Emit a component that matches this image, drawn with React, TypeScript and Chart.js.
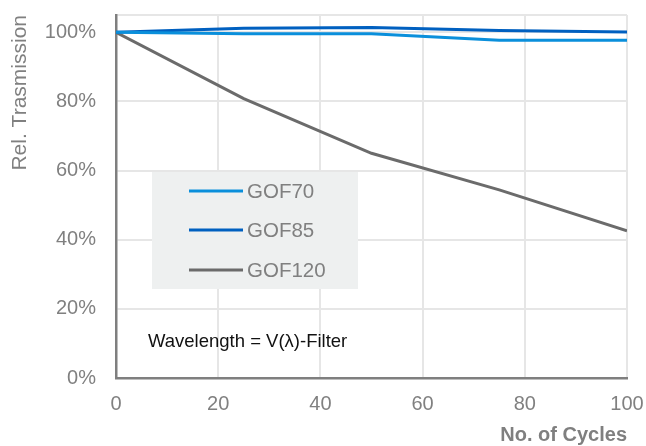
import React, { useEffect, useRef } from "react";
import { Chart, registerables } from "chart.js";

Chart.register(...registerables);

const cycles = [0, 25, 50, 75, 100];
const gof70 = [100, 99.6, 99.6, 97.7, 97.7];
const gof85 = [100, 101.2, 101.4, 100.5, 100.1];
const gof120 = [100, 80.8, 65.0, 54.4, 42.6];
const seriesLabels = ["GOF70", "GOF85", "GOF120"];
const seriesColors = ["#0a8fdb", "#0060c0", "#6b6b6b"];
const yTickValues = [0, 20, 40, 60, 80, 100, 105];
const xTickValues = [0, 20, 40, 60, 80, 100];
const annotationText = "Wavelength = V(\u03bb)-Filter";

const FONT = "'Liberation Sans', Arial, sans-serif";

const legendPlugin = {
  id: "insideLegend",
  afterDatasetsDraw(chart: any) {
    const ctx = chart.ctx;
    ctx.save();
    ctx.fillStyle = "#eef0f0";
    ctx.fillRect(152, 172, 206, 117);
    const rows = [191, 230, 270];
    chart.data.datasets.forEach((ds: any, i: number) => {
      const y = rows[i];
      ctx.strokeStyle = ds.borderColor;
      ctx.lineWidth = 3;
      ctx.beginPath();
      ctx.moveTo(189, y);
      ctx.lineTo(243, y);
      ctx.stroke();
      ctx.fillStyle = "#808080";
      ctx.font = "20.5px " + FONT;
      ctx.textBaseline = "middle";
      ctx.textAlign = "left";
      ctx.fillText(ds.label, 247, y + 1);
    });
    ctx.fillStyle = "#111111";
    ctx.font = "18.5px " + FONT;
    ctx.textBaseline = "middle";
    ctx.fillText(annotationText, 148, 342);
    ctx.restore();
  },
};

export default function App() {
  const ref = useRef<HTMLCanvasElement | null>(null);
  useEffect(() => {
    document.body.style.margin = "0";
    const makeData = (vals: number[]) => cycles.map((x, i) => ({ x, y: vals[i] }));
    const chart = new Chart(ref.current as HTMLCanvasElement, {
      type: "line",
      data: {
        datasets: [gof70, gof85, gof120].map((vals, i) => ({
          label: seriesLabels[i],
          data: makeData(vals),
          borderColor: seriesColors[i],
          backgroundColor: seriesColors[i],
          borderWidth: 3,
          pointRadius: 0,
          tension: 0,
          fill: false,
        })),
      },
      options: {
        responsive: false,
        animation: false,
        layout: { padding: { left: 0, top: 15, right: 19, bottom: 0 } },
        plugins: { legend: { display: false }, tooltip: { enabled: false } },
        scales: {
          x: {
            type: "linear",
            min: 0,
            max: 100,
            afterBuildTicks: (s: any) => {
              s.ticks = xTickValues.map((v) => ({ value: v }));
            },
            afterFit: (s: any) => {
              s.height = 68;
              s.paddingLeft = 0;
              s.paddingRight = 0;
            },
            grid: { color: "#e6e6e6", lineWidth: 2, drawTicks: false },
            border: { color: "#7f7f7f", width: 2.5 },
            ticks: {
              color: "#808080",
              font: { family: FONT, size: 20 },
              padding: 14,
              maxRotation: 0,
            },
            title: {
              display: true,
              text: "No. of Cycles",
              align: "end",
              color: "#7f7f7f",
              font: { family: FONT, size: 20, weight: "bold", lineHeight: 1.1 },
              padding: { top: 0, bottom: 0 },
            },
          },
          y: {
            type: "linear",
            min: 0,
            max: 105,
            afterBuildTicks: (s: any) => {
              s.ticks = yTickValues.map((v) => ({ value: v }));
            },
            afterFit: (s: any) => {
              s.width = 116;
              s.paddingTop = 0;
              s.paddingBottom = 0;
            },
            grid: { color: "#e6e6e6", lineWidth: 2, drawTicks: false },
            border: { color: "#7f7f7f", width: 2.5 },
            ticks: {
              color: "#808080",
              font: { family: FONT, size: 20 },
              padding: 20,
              callback: (v: any) => (v === 105 ? "" : v + "%"),
            },
            title: {
              display: true,
              text: "Rel. Trasmission",
              align: "end",
              color: "#808080",
              font: { family: FONT, size: 21, lineHeight: 1.2 },
              padding: { top: 8, bottom: 0 },
            },
          },
        },
      },
      plugins: [legendPlugin],
    } as any);
    return () => chart.destroy();
  }, []);
  return (
    <div style={{ width: 646, height: 446 }}>
      <canvas ref={ref} width={646} height={446} />
    </div>
  );
}
